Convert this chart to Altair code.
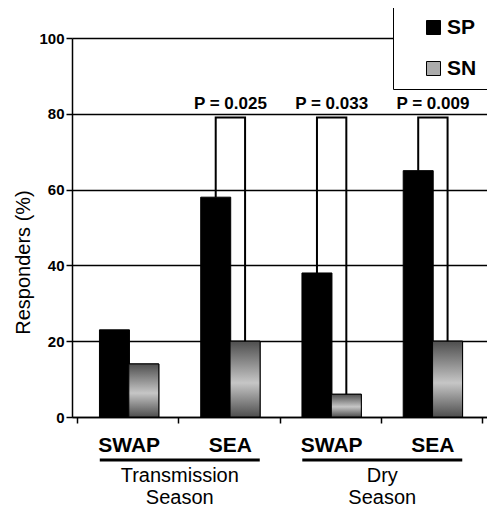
import altair as alt
import pandas as pd

# ---- data ----
groups = ["SWAP", "SEA", "SWAP", "SEA"]
season_of_group = ["Transmission", "Transmission", "Dry", "Dry"]
series = ["SP", "SN"]
sp_values = [23, 58, 38, 65]
sn_values = [14, 20, 6, 20]
p_labels = ["", "P = 0.025", "P = 0.033", "P = 0.009"]
bracket_top = 79
season_names = ["Transmission", "Dry"]
season_lines = [["Transmission", "Season"], ["Dry", "Season"]]
y_ticks = [0, 20, 40, 60, 80, 100]

# ---- layout helpers (band centres on a 0..4 axis) ----
HALF = 0.145
centre = [i + 0.515 for i in range(len(groups))]

bar_rows = []
for i, g in enumerate(groups):
    bar_rows.append({"gi": i, "group": g, "series": "SP", "value": sp_values[i], "pos": centre[i] - HALF})
    bar_rows.append({"gi": i, "group": g, "series": "SN", "value": sn_values[i], "pos": centre[i] + HALF})
bars_df = pd.DataFrame(bar_rows)

br_rows = []
for i, p in enumerate(p_labels):
    if not p:
        continue
    pts = [(centre[i] - HALF, sp_values[i]), (centre[i] - HALF, bracket_top),
           (centre[i] + HALF, bracket_top), (centre[i] + HALF, sn_values[i])]
    for k, (x, y) in enumerate(pts):
        br_rows.append({"gi": i, "k": k, "x": x, "y": y})
br_df = pd.DataFrame(br_rows)

p_df = pd.DataFrame({"x": centre, "y": [bracket_top] * 4, "label": p_labels})
p_df = p_df[p_df["label"] != ""]

grp_df = pd.DataFrame({"x": centre, "label": groups})

season_rows = []
for s, lines in zip(season_names, season_lines):
    idx = [i for i, sg in enumerate(season_of_group) if sg == s]
    season_rows.append({
        "season": s,
        "left": centre[idx[0]] - 2 * HALF,
        "right": centre[idx[-1]] + 2 * HALF,
        "mid": (centre[idx[0]] + centre[idx[-1]]) / 2,
        "lines": lines,
    })
season_df = pd.DataFrame(season_rows)

FONT = "Liberation Sans"
x_scale = alt.Scale(domain=[0, 4], nice=False, zero=False)
y_scale = alt.Scale(domain=[0, 100], nice=False)

x_axis = alt.Axis(values=[0, 1, 2, 3, 4], labels=False, title=None, grid=False,
                  tickSize=6, tickColor="black", tickWidth=1.5,
                  domainColor="black", domainWidth=1.5)
y_axis = alt.Axis(values=y_ticks, title="Responders (%)", grid=True, gridColor="black",
                  gridWidth=1.5, gridOpacity=1, tickSize=6, tickColor="black", tickWidth=1.5,
                  domainColor="black", domainWidth=1.5, labelFont=FONT, labelFontSize=15,
                  labelFontWeight="bold", labelColor="black", labelPadding=2,
                  titleFont=FONT, titleFontSize=20, titleFontWeight="normal",
                  titleColor="black", titleY=224, titlePadding=5)

legend = alt.Legend(title=None, orient="none", legendX=321, legendY=-31, direction="vertical",
                    padding=10, symbolOffset=20, rowPadding=19, strokeColor="black",
                    fillColor="white", labelFont=FONT, labelFontSize=21, labelFontWeight="bold",
                    labelColor="black", symbolType="square", symbolSize=196,
                    symbolStrokeColor="black", symbolStrokeWidth=1, labelOffset=3,
                    labelExpr="datum.label + '        '")

gradient = {
    "gradient": "linear", "x1": 0, "y1": 0, "x2": 0, "y2": 1,
    "stops": [
        {"offset": 0, "color": "#4e4e4e"},
        {"offset": 0.55, "color": "#c6c6c6"},
        {"offset": 1, "color": "#4e4e4e"},
    ],
}

bars = alt.Chart(bars_df).mark_bar(size=30, stroke="black", strokeWidth=1).encode(
    x=alt.X("pos:Q", scale=x_scale, axis=x_axis),
    y=alt.Y("value:Q", scale=y_scale, axis=y_axis, stack=None),
    color=alt.Color("series:N", scale=alt.Scale(domain=series, range=["black", "#ababab"]),
                    legend=legend),
)

sn_bars = alt.Chart(bars_df).transform_filter("datum.series == 'SN'").mark_bar(
    size=30, fill=gradient, stroke="black", strokeWidth=1
).encode(
    x=alt.X("pos:Q", scale=x_scale),
    y=alt.Y("value:Q", scale=y_scale, stack=None),
)

brackets = alt.Chart(br_df).mark_line(color="black", strokeWidth=2).encode(
    x=alt.X("x:Q", scale=x_scale),
    y=alt.Y("y:Q", scale=y_scale),
    detail="gi:N",
    order="k:O",
)

p_text = alt.Chart(p_df).mark_text(font=FONT, fontSize=17, fontWeight="bold", color="black",
                                    baseline="alphabetic", dy=-9).encode(
    x=alt.X("x:Q", scale=x_scale),
    y=alt.Y("y:Q", scale=y_scale),
    text="label:N",
)

grp_text = alt.Chart(grp_df).mark_text(font=FONT, fontSize=21, fontWeight="bold", color="black",
                                        baseline="alphabetic").encode(
    x=alt.X("x:Q", scale=x_scale),
    y=alt.value(414),
    text="label:N",
)

underline = alt.Chart(season_df).mark_rule(color="black", strokeWidth=3).encode(
    x=alt.X("left:Q", scale=x_scale),
    x2="right:Q",
    y=alt.value(422),
)

season_text = alt.Chart(season_df).mark_text(font=FONT, fontSize=20, color="black",
                                              baseline="alphabetic", lineHeight=22).encode(
    x=alt.X("mid:Q", scale=x_scale),
    y=alt.value(444),
    text="lines",
)

chart = alt.layer(bars, sn_bars, brackets, p_text, grp_text, underline, season_text).properties(
    width=415, height=379,
    autosize=alt.AutoSizeParams(type="none"),
    padding={"left": 64, "top": 30, "right": 0, "bottom": 93},
).configure_view(stroke="black", strokeWidth=1.5).configure(font=FONT)

chart.save("out.html", embed_options={"renderer": "svg", "actions": False})
